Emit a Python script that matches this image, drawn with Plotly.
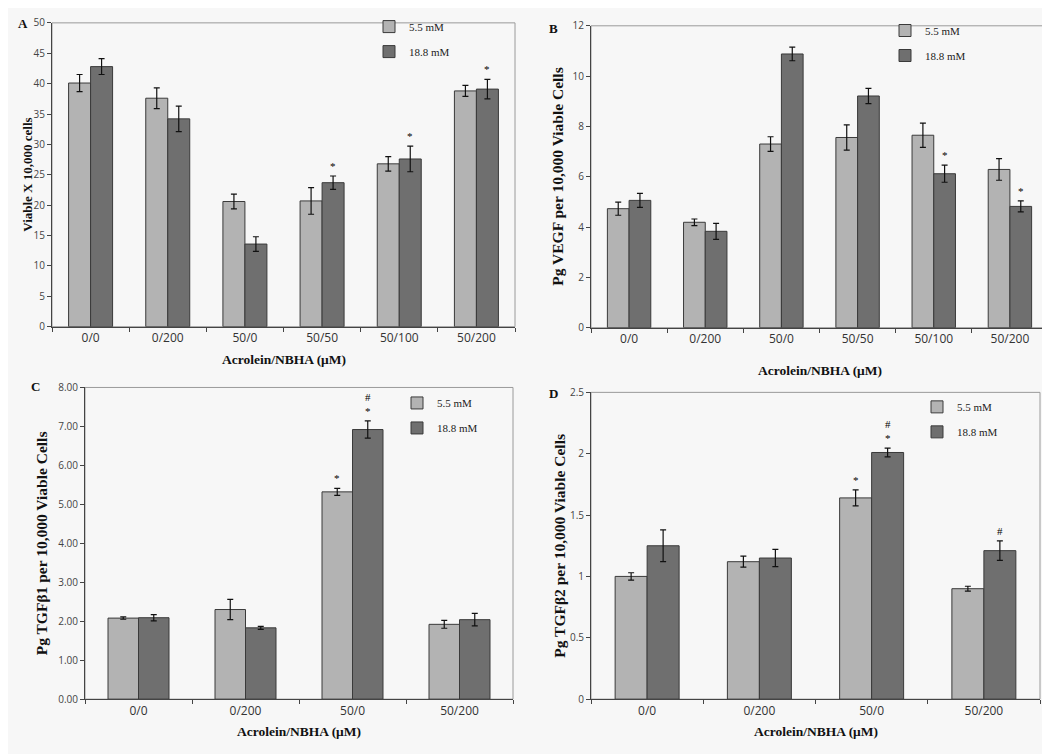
import plotly.graph_objects as go

W, H = 1050, 754

cats6 = ["0/0", "0/200", "50/0", "50/50", "50/100", "50/200"]
cats4 = ["0/0", "0/200", "50/0", "50/200"]
series_names = ["5.5 mM", "18.8 mM"]

# Panel A: viable cells
A_low = [40.1, 37.6, 20.6, 20.7, 26.8, 38.8]
A_low_err = [1.4, 1.7, 1.2, 2.2, 1.2, 0.9]
A_high = [42.8, 34.2, 13.6, 23.7, 27.6, 39.1]
A_high_err = [1.3, 2.1, 1.2, 1.1, 2.1, 1.6]
A_low_marks = ["", "", "", "", "", ""]
A_high_marks = ["", "", "", "*", "*", "*"]

# Panel B: VEGF
B_low = [4.73, 4.19, 7.30, 7.56, 7.65, 6.29]
B_low_err = [0.26, 0.13, 0.29, 0.50, 0.48, 0.43]
B_high = [5.06, 3.83, 10.88, 9.21, 6.12, 4.82]
B_high_err = [0.28, 0.32, 0.27, 0.30, 0.34, 0.22]
B_low_marks = ["", "", "", "", "", ""]
B_high_marks = ["", "", "", "", "*", "*"]

# Panel C: TGFb1
C_low = [2.08, 2.30, 5.32, 1.92]
C_low_err = [0.03, 0.26, 0.09, 0.10]
C_high = [2.09, 1.83, 6.92, 2.04]
C_high_err = [0.08, 0.04, 0.22, 0.16]
C_low_marks = ["", "", "*", ""]
C_high_marks = ["", "", "#<br>*", ""]

# Panel D: TGFb2
D_low = [1.00, 1.12, 1.64, 0.90]
D_low_err = [0.03, 0.045, 0.065, 0.02]
D_high = [1.25, 1.15, 2.01, 1.21]
D_high_err = [0.13, 0.07, 0.035, 0.08]
D_low_marks = ["", "", "*", ""]
D_high_marks = ["", "", "#<br>*", "#"]

y_titles = ["Viable X 10,000 cells", "Pg VEGF per 10,000 Viable Cells",
            "Pg TGFβ1 per 10,000 Viable Cells", "Pg TGFβ2 per 10,000 Viable Cells"]
x_title = "Acrolein/NBHA (μM)"
letters = ["A", "B", "C", "D"]

LIGHT = "#b3b3b3"
DARK = "#6f6f6f"
SERIF = "Liberation Serif, Times New Roman, serif"
SANS = "Open Sans, Liberation Sans, sans-serif"

# pixel boxes (left, top, right, bottom)
boxes = [(44, 7, 507, 317), (583, 10, 1040, 318), (77, 379, 505, 697), (583, 384, 1032, 697)]
legend_pos = [(361, -4), (877, 0), (389, 380), (909, 384)]
letter_pos = [(15, 8), (545, 13), (27, 378), (545, 385)]
ytitle_x = [20, 550, 33, 552]
ytitle_size = [13, 15.5, 15.5, 15.5]
xtitle_y = [350, 362, 730, 730]
yranges = [(0, 50, 5, None), (0, 12, 2, None), (0, 8, 1, ".2f"), (0, 2.5, 0.5, None)]

panels = [
    (cats6, A_low, A_low_err, A_high, A_high_err, A_low_marks, A_high_marks),
    (cats6, B_low, B_low_err, B_high, B_high_err, B_low_marks, B_high_marks),
    (cats4, C_low, C_low_err, C_high, C_high_err, C_low_marks, C_high_marks),
    (cats4, D_low, D_low_err, D_high, D_high_err, D_low_marks, D_high_marks),
]

BARGAP = 0.43
fig = go.Figure()
annotations = []
layout = {}

for i, (cats, lo, loe, hi, hie, lom, him) in enumerate(panels):
    n = i + 1
    sfx = "" if n == 1 else str(n)
    xa, ya = "x" + sfx, "y" + sfx
    leg = "legend" + sfx
    l, t, r, b = boxes[i]
    for name, vals, errs, col in [(series_names[0], lo, loe, LIGHT), (series_names[1], hi, hie, DARK)]:
        fig.add_trace(go.Bar(
            x=cats, y=vals, name=name, xaxis=xa, yaxis=ya, legend=leg,
            legendgroup=name + sfx,
            marker=dict(color=col, line=dict(color="#3a3a3a", width=1)),
            error_y=dict(type="data", array=errs, visible=True, color="#111111", thickness=1.2, width=3),
        ))
    cat_px = (r - l) / len(cats)
    off = (1 - BARGAP) / 4 * cat_px
    for vals, errs, marks, sgn in [(lo, loe, lom, -1), (hi, hie, him, 1)]:
        for c, v, e, m in zip(cats, vals, errs, marks):
            if m:
                annotations.append(dict(x=c, y=v + e, xref=xa, yref=ya, text=m, showarrow=False,
                                        xshift=sgn * off, yanchor="bottom", yshift=2,
                                        font=dict(family=SERIF, size=11, color="#000000")))
    y0, y1, dt, fmt = yranges[i]
    layout["xaxis" + sfx] = dict(domain=[l / W, r / W], anchor=ya, showline=True, linecolor="#444",
                                 mirror=False, ticks="outside", tickson="boundaries", ticklen=4,
                                 tickcolor="#444", showgrid=False,
                                 tickfont=dict(family=SANS, size=12, color="#333"))
    layout["yaxis" + sfx] = dict(domain=[1 - b / H, 1 - t / H], anchor=xa, range=[y0, y1], dtick=dt,
                                 tickformat=fmt, showline=True, linecolor="#444", ticks="outside",
                                 ticklen=4, tickcolor="#444", showgrid=False, zeroline=False,
                                 tickfont=dict(family=SANS, size=10, color="#444"))
    # light frame around plot area
    fig.add_shape(type="rect", xref="paper", yref="paper", x0=l / W, x1=r / W, y0=1 - b / H, y1=1 - t / H,
                  line=dict(color="#9a9a9a", width=1), layer="below")
    lx, ly = legend_pos[i]
    layout[leg] = dict(x=lx / W, y=1 - ly / H, xanchor="left", yanchor="top", bgcolor="rgba(0,0,0,0)",
                       font=dict(family=SERIF, size=11, color="#222"), tracegroupgap=6,
                       traceorder="grouped", itemwidth=30)
    px_, py_ = letter_pos[i]
    annotations.append(dict(x=px_ / W, y=1 - py_ / H, xref="paper", yref="paper", text="<b>%s</b>" % letters[i],
                            showarrow=False, xanchor="center", yanchor="middle",
                            font=dict(family=SERIF, size=13, color="#111")))
    annotations.append(dict(x=ytitle_x[i] / W, y=1 - ((t + b) / 2) / H, xref="paper", yref="paper",
                            text="<b>%s</b>" % y_titles[i], textangle=-90, showarrow=False,
                            xanchor="center", yanchor="middle",
                            font=dict(family=SERIF, size=ytitle_size[i], color="#111")))
    annotations.append(dict(x=((l + r) / 2) / W, y=1 - xtitle_y[i] / H, xref="paper", yref="paper",
                            text="<b>%s</b>" % x_title, showarrow=False, xanchor="center", yanchor="middle",
                            font=dict(family=SERIF, size=13.5, color="#111")))

fig.update_layout(
    width=W, height=H, margin=dict(l=0, r=0, t=0, b=0),
    paper_bgcolor="#f7f7f7", plot_bgcolor="rgba(0,0,0,0)",
    barmode="group", bargap=BARGAP, bargroupgap=0,
    annotations=annotations, **layout,
)
fig.write_html("out.html")
